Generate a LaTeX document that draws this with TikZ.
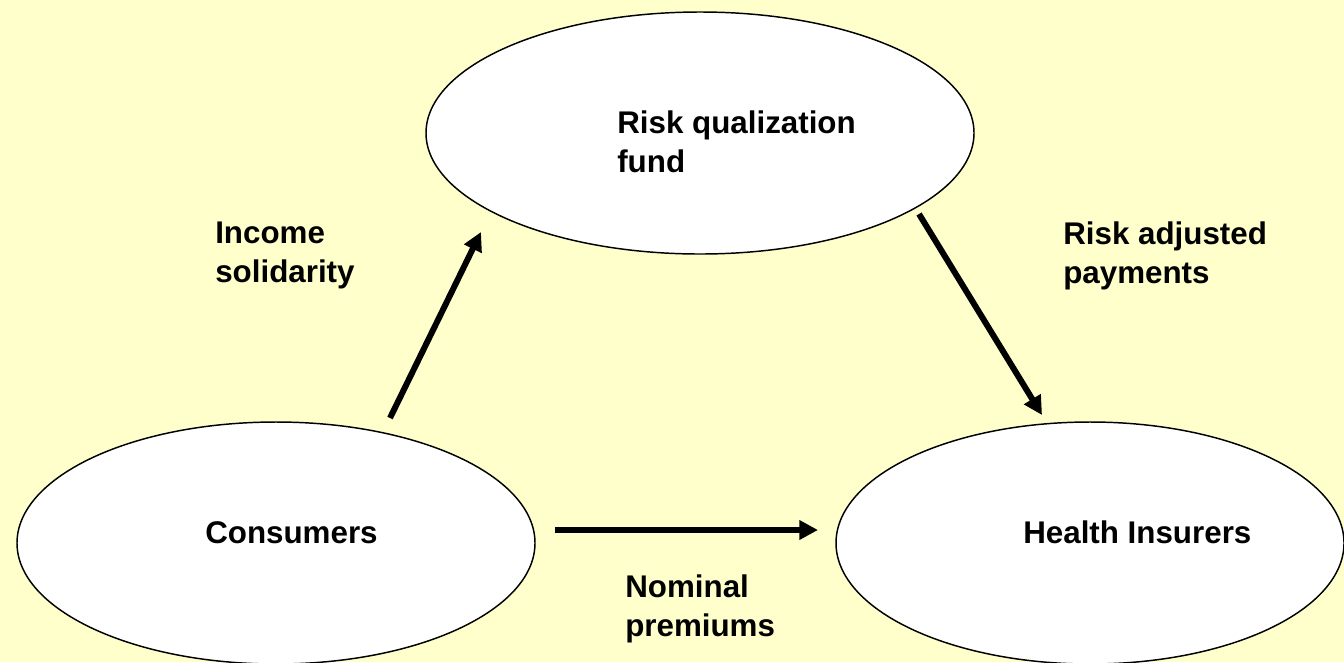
\documentclass[tikz,border=0pt]{standalone}
\usepackage{fontspec}
\setmainfont{Liberation Sans}
\usetikzlibrary{shapes.geometric,arrows.meta}
\definecolor{bgyellow}{HTML}{FFFFCC}
\tikzset{
  blob/.style={ellipse,draw=black,line width=1.1pt,fill=white,inner sep=0pt},
  lbl/.style={anchor=base west,align=left,inner sep=0pt,font=\fontsize{23.5}{29}\selectfont\bfseries},
  flow/.style={line width=4.5pt,-{Triangle[length=14pt,width=14pt]}}
}
\begin{document}
\begin{tikzpicture}[x=0.75pt,y=-0.75pt]
\fill[bgyellow] (0,0) rectangle (1344,662);
\useasboundingbox (0,0) rectangle (1344,662);
\node[blob,minimum width=411pt,minimum height=181.5pt] (fund) at (700,133) {};
\node[blob,minimum width=388.5pt,minimum height=181.5pt] (cons) at (276,543) {};
\node[blob,minimum width=381pt,minimum height=181.5pt] (ins) at (1090,543) {};
\node[lbl] (fundt) at (617,172) {Risk qualization\\fund};
\node[lbl] (const) at (205,543) {Consumers};
\node[lbl] (inst) at (1023,543) {Health Insurers};
\node[lbl] (inc) at (215,282) {Income\\solidarity};
\node[lbl] (adj) at (1063,283) {Risk adjusted\\payments};
\node[lbl] (nom) at (625,636) {Nominal\\premiums};
\coordinate (a1s) at (390,418);
\coordinate (a1e) at (481,232);
\coordinate (a2s) at (919,214);
\coordinate (a2e) at (1042,415);
\coordinate (a3s) at (555,530);
\coordinate (a3e) at (818,530);
\draw[flow] (a1s) -- (a1e);
\draw[flow] (a2s) -- (a2e);
\draw[flow] (a3s) -- (a3e);
\end{tikzpicture}
\end{document}
